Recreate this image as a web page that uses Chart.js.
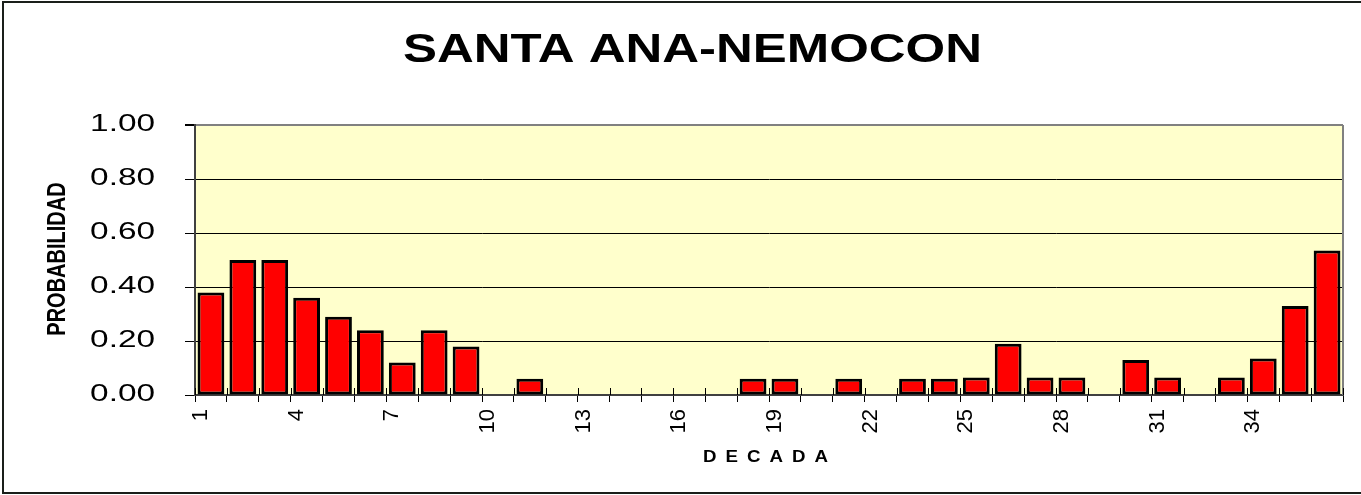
<!DOCTYPE html>
<html>
<head>
<meta charset="utf-8">
<script src="https://cdn.jsdelivr.net/npm/chart.js@4/dist/chart.umd.min.js"></script>
<style>
html,body{margin:0;padding:0;background:#fff;}
#wrap{width:1361px;height:495px;}
</style>
</head>
<body>
<div id="wrap"><canvas id="c" width="1361" height="495"></canvas></div>
<script>
const chartTitle = 'SANTA ANA-NEMOCON';
const xTitle = 'DECADA';
const yTitle = 'PROBABILIDAD';
const decades = ['1','2','3','4','5','6','7','8','9','10','11','12','13','14','15','16','17','18','19','20','21','22','23','24','25','26','27','28','29','30','31','32','33','34','35','36'];
const probabilidad = [0.38,0.50,0.50,0.36,0.29,0.24,0.12,0.24,0.18,0,0.06,0,0,0,0,0,0,0.06,0.06,0,0.06,0,0.06,0.06,0.065,0.19,0.065,0.065,0,0.13,0.065,0,0.065,0.135,0.33,0.535];
const yTicks = [0,0.2,0.4,0.6,0.8,1.0];

const FONT = '"Liberation Sans", Arial, sans-serif';

const decorPlugin = {
  id: 'decor',
  beforeDraw(chart) {
    const ctx = chart.ctx, a = chart.chartArea;
    ctx.save();
    ctx.fillStyle = '#fff';
    ctx.fillRect(0, 0, chart.width, chart.height);
    ctx.fillStyle = '#FFFFCC';
    ctx.fillRect(a.left, a.top, a.right - a.left, a.bottom - a.top);
    ctx.restore();
    // stretch y tick labels horizontally
    const s = chart.scales.y;
    if (s && !s._stretched) {
      const orig = s.drawLabels;
      s.drawLabels = function(area) {
        const c = this.ctx;
        const xr = this.right - this.options.grid.tickLength - this.options.ticks.padding;
        c.save();
        c.translate(xr, 0); c.scale(1.45, 1); c.translate(-xr, 0);
        orig.call(this, area);
        c.restore();
      };
      s._stretched = true;
    }
  },
  beforeDatasetsDraw(chart) {
    const ctx = chart.ctx, a = chart.chartArea, x = chart.scales.x;
    ctx.save();
    ctx.strokeStyle = '#808080';
    ctx.lineWidth = 2;
    ctx.beginPath();
    ctx.moveTo(a.right, a.top); ctx.lineTo(a.right, a.bottom);
    ctx.stroke();
    const half = (x.getPixelForValue(1) - x.getPixelForValue(0)) / 2;
    ctx.strokeStyle = '#000';
    ctx.lineWidth = 1;
    ctx.beginPath();
    for (let i = 0; i <= decades.length; i++) {
      const px = Math.round(x.getPixelForValue(i) - half) + 0.5;
      ctx.moveTo(px, a.bottom); ctx.lineTo(px, a.bottom - 7);
    }
    ctx.stroke();
    ctx.restore();
  },
  afterDraw(chart) {
    const ctx = chart.ctx;
    ctx.save();
    ctx.strokeStyle = '#1a1f1a';
    ctx.lineWidth = 2;
    ctx.strokeRect(3, 2, 1420, 491);
    ctx.fillStyle = '#000';
    ctx.textAlign = 'left';
    ctx.textBaseline = 'alphabetic';
    // title: stretched horizontally to span 403..982
    ctx.save();
    ctx.font = 'bold 40px ' + FONT;
    let w = ctx.measureText(chartTitle).width;
    ctx.translate(403, 62);
    ctx.scale(579 / w, 1);
    ctx.fillText(chartTitle, 0, 0);
    ctx.restore();
    // x title
    ctx.save();
    ctx.font = 'bold 17px ' + FONT;
    const sx = 1.1;
    w = ctx.measureText(xTitle).width * sx;
    ctx.translate(703, 462);
    ctx.scale(sx, 1);
    ctx.letterSpacing = (((125 - w) / (xTitle.length - 1)) / sx) + 'px';
    ctx.fillText(xTitle, 0, 0);
    ctx.restore();
    // y title
    ctx.save();
    ctx.font = 'bold 20px ' + FONT;
    ctx.translate(58, 259);
    ctx.rotate(-Math.PI / 2);
    ctx.scale(1, 1.3);
    ctx.textAlign = 'center';
    ctx.textBaseline = 'middle';
    ctx.fillText(yTitle, 0, 0);
    ctx.restore();
    ctx.restore();
  }
};

new Chart(document.getElementById('c'), {
  type: 'bar',
  data: {
    labels: decades,
    datasets: [{
      data: probabilidad,
      backgroundColor: '#FF0000',
      borderColor: '#000000',
      borderWidth: 3,
      borderSkipped: false,
      barPercentage: 0.84,
      categoryPercentage: 1.0
    }]
  },
  options: {
    responsive: false,
    animation: false,
    layout: { padding: { top: 125, right: 18, left: 0, bottom: 0 } },
    plugins: { legend: { display: false }, title: { display: false }, tooltip: { enabled: false } },
    scales: {
      x: {
        afterFit(s) { s.height = 100; },
        grid: { display: true, drawOnChartArea: false, drawTicks: true, tickLength: 7, color: '#000', offset: true },
        border: { display: true, color: '#404040', width: 2 },
        ticks: {
          autoSkip: false, maxRotation: 90, minRotation: 90,
          padding: 7, labelOffset: -10,
          color: '#000',
          font: { family: FONT, size: 22 },
          callback: function(v, i) { return i % 3 === 0 ? decades[i] : ''; }
        }
      },
      y: {
        min: 0, max: 1,
        afterFit(s) { s.width = 195; },
        afterBuildTicks(s) { s.ticks = yTicks.map(v => ({ value: v })); },
        grid: {
          color: (c) => (c.tick && c.tick.value === 1 ? '#808080' : '#000'),
          lineWidth: (c) => (c.tick && c.tick.value === 1 ? 2 : 1),
          tickColor: '#000', tickLength: 10
        },
        border: { display: true, color: '#404040', width: 2 },
        ticks: {
          padding: 30, color: '#000',
          font: { family: FONT, size: 23 },
          callback: (v) => Number(v).toFixed(2)
        }
      }
    }
  },
  plugins: [decorPlugin]
});
</script>
</body>
</html>
